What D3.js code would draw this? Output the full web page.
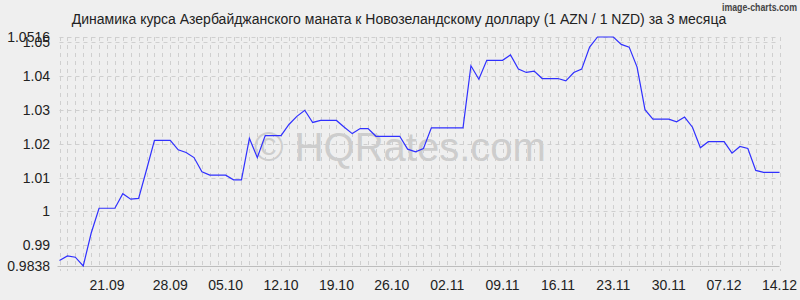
<!DOCTYPE html>
<html>
<head>
<meta charset="utf-8">
<script src="https://cdn.jsdelivr.net/npm/d3@7"></script>
<style>
  body { margin: 0; background: #efefef; }
  svg { display: block; font-family: "Liberation Sans", Arial, sans-serif; }
</style>
</head>
<body>
<div id="chart"></div>
<script>
const title = "Динамика курса Азербайджанского маната к Новозеландскому доллару (1 AZN / 1 NZD) за 3 месяца";

// daily rate, 15.09 .. 14.12
const rates = [
  0.9854, 0.9868, 0.9864, 0.9838, 0.9935, 1.0009, 1.0009, 1.0009, 1.0052, 1.0036,
  1.0038, 1.0123, 1.0210, 1.0210, 1.0210, 1.0182, 1.0174, 1.0159, 1.0117, 1.0107,
  1.0107, 1.0107, 1.0093, 1.0093, 1.0216, 1.0159, 1.0224, 1.0224, 1.0224, 1.0257,
  1.0281, 1.0299, 1.0263, 1.0269, 1.0269, 1.0269, 1.0249, 1.0230, 1.0245, 1.0245,
  1.0222, 1.0222, 1.0222, 1.0222, 1.0184, 1.0176, 1.0186, 1.0247, 1.0247, 1.0247,
  1.0247, 1.0247, 1.0431, 1.0391, 1.0447, 1.0447, 1.0447, 1.0463, 1.0421, 1.0411,
  1.0415, 1.0393, 1.0393, 1.0393, 1.0386, 1.0411, 1.0421, 1.0486, 1.0516, 1.0516,
  1.0516, 1.0494, 1.0486, 1.0427, 1.0301, 1.0273, 1.0273, 1.0273, 1.0265, 1.0279,
  1.0249, 1.0188, 1.0206, 1.0206, 1.0206, 1.0172, 1.0192, 1.0186, 1.0121, 1.0115,
  1.0115, 1.0115
];

const dateLabels = ["21.09", "28.09", "05.10", "12.10", "19.10", "26.10", "02.11",
  "09.11", "16.11", "23.11", "30.11", "07.12", "14.12"];
const dateIndex = [6, 14, 21, 28, 35, 42, 49, 56, 63, 70, 77, 84, 91];

const yTicks = [0.9838, 0.99, 1, 1.01, 1.02, 1.03, 1.04, 1.05, 1.0516];

const W = 800, H = 300;
const margin = {top: 37, right: 20, bottom: 34, left: 59.5};

const svg = d3.select('#chart').append('svg')
  .attr('width', W)
  .attr('height', H);

svg.append('rect').attr('width', W).attr('height', H).attr('fill', '#efefef');

const x = d3.scaleLinear()
  .domain([0, rates.length - 1])
  .range([margin.left, W - margin.right - 0.5]);

const y = d3.scaleLinear()
  .domain([d3.min(yTicks), d3.max(yTicks)])
  .range([H - margin.bottom, margin.top]);

// watermark
svg.append('text')
  .attr('x', 400)
  .attr('y', 161)
  .attr('text-anchor', 'middle')
  .attr('font-size', 40)
  .attr('fill', '#c4c4c4')
  .attr('fill-opacity', 0.8)
  .text('© HQRates.com');

// vertical grid, one per point
svg.append('g')
  .selectAll('line')
  .data(d3.range(rates.length))
  .join('line')
  .attr('x1', d => Math.round(x(d)) + 0.5)
  .attr('x2', d => Math.round(x(d)) + 0.5)
  .attr('y1', y.range()[1])
  .attr('y2', y.range()[0] + 5)
  .attr('stroke', '#cfcfcf')
  .attr('stroke-dasharray', '4,4');

// horizontal grid at y ticks
svg.append('g')
  .selectAll('line')
  .data(yTicks)
  .join('line')
  .attr('x1', x.range()[0])
  .attr('x2', x.range()[1])
  .attr('y1', d => Math.round(y(d)) + 0.5)
  .attr('y2', d => Math.round(y(d)) + 0.5)
  .attr('stroke', '#cfcfcf')
  .attr('stroke-dasharray', '4,4');

// bottom axis line
svg.append('line')
  .attr('x1', x.range()[0] - 2)
  .attr('x2', x.range()[1])
  .attr('y1', Math.round(y.range()[0]) + 0.5)
  .attr('y2', Math.round(y.range()[0]) + 0.5)
  .attr('stroke', '#bdbdbd');

// y labels
svg.append('g')
  .selectAll('text')
  .data(yTicks)
  .join('text')
  .attr('x', 50)
  .attr('y', d => y(d))
  .attr('dy', '0.36em')
  .attr('text-anchor', 'end')
  .attr('font-size', 14)
  .attr('fill', '#222')
  .text(d => d3.format('.4~f')(d));

// x labels
svg.append('g')
  .selectAll('text')
  .data(dateLabels)
  .join('text')
  .attr('x', (d, i) => x(dateIndex[i]))
  .attr('y', 290)
  .attr('text-anchor', 'middle')
  .attr('font-size', 14)
  .attr('fill', '#222')
  .text(d => d);

// rate line
const line = d3.line()
  .x((d, i) => x(i))
  .y(d => y(d));

svg.append('path')
  .datum(rates)
  .attr('d', line)
  .attr('fill', 'none')
  .attr('stroke', '#3030ff')
  .attr('stroke-width', 1.2);

// title
svg.append('text')
  .attr('x', 399)
  .attr('y', 24)
  .attr('text-anchor', 'middle')
  .attr('font-size', 14)
  .attr('fill', '#222')
  .text(title);

svg.append('text')
  .attr('x', 797)
  .attr('y', 11)
  .attr('text-anchor', 'end')
  .attr('font-size', 10)
  .attr('font-weight', 'bold')
  .attr('textLength', 75)
  .attr('lengthAdjust', 'spacingAndGlyphs')
  .attr('fill', '#444')
  .text('image-charts.com');
</script>
</body>
</html>
